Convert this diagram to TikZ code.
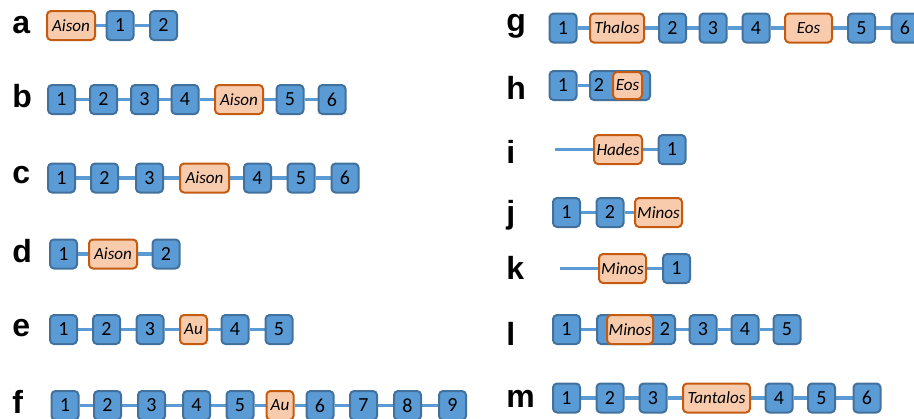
\documentclass[tikz,border=0pt]{standalone}
\usepackage{fontspec}
\setmainfont{Carlito}
\newfontfamily\labfont{Liberation Sans}
\usetikzlibrary{backgrounds}
\definecolor{fblue}{HTML}{5B9BD5}
\definecolor{bblue}{HTML}{41719C}
\definecolor{forange}{HTML}{F8CBAD}
\definecolor{borange}{HTML}{C55A11}
\definecolor{lblue}{HTML}{5B9BD5}
\tikzset{
  x=0.75pt, y=-0.75pt,
  nb/.style={draw=bblue, fill=fblue, line width=1.5pt, rounded corners=3pt,
    minimum width=20.25pt, minimum height=21.75pt, inner sep=0pt,
    font=\fontsize{15}{16}\selectfont},
  no/.style={draw=borange, fill=forange, line width=1.5pt, rounded corners=3pt,
    minimum width=#1, minimum height=21.75pt, inner sep=0pt,
    font=\fontsize{12.8}{13}\selectfont\itshape},
  no/.default=36pt,
  txt/.style={inner sep=0pt, font=\fontsize{15}{16}\selectfont},
  lab/.style={anchor=base west, inner sep=0pt, font=\labfont\bfseries\fontsize{24}{26}\selectfont},
  link/.style={draw=lblue, line width=2.6pt},
}
\begin{document}
\begin{tikzpicture}
\useasboundingbox (0,0) rectangle (914,418);
% labels
\node[lab] (La) at (12,33) {a};
\node[lab] (Lb) at (12,107) {b};
\node[lab] (Lc) at (12,183) {c};
\node[lab] (Ld) at (12,262) {d};
\node[lab] (Le) at (12,336) {e};
\node[lab] (Lf) at (12,413) {f};
\node[lab] (Lg) at (506,31) {g};
\node[lab] (Lh) at (506,99) {h};
\node[lab] (Li) at (506,163) {i};
\node[lab] (Lj) at (506,223.5) {j};
\node[lab] (Lk) at (506,279) {k};
\node[lab] (Ll) at (506,345) {l};
\node[lab] (Lm) at (506,407) {m};
% row a
\node[no] (aA) at (71,25.5) {Aison};
\node[nb] (a1) at (120,25.5) {1};
\node[nb] (a2) at (163.5,25.5) {2};
% row b
\node[nb] (b1) at (61.5,99.5) {1};
\node[nb] (b2) at (103.5,99.5) {2};
\node[nb] (b3) at (144.5,99.5) {3};
\node[nb] (b4) at (185,99.5) {4};
\node[no] (bA) at (239,99.5) {Aison};
\node[nb] (b5) at (290,99.5) {5};
\node[nb] (b6) at (332,99.5) {6};
% row c
\node[nb] (c1) at (61.5,178) {1};
\node[nb] (c2) at (104.5,178) {2};
\node[nb] (c3) at (149.5,178) {3};
\node[no=36.75pt] (cA) at (204.5,178) {Aison};
\node[nb] (c4) at (257.5,178) {4};
\node[nb] (c5) at (301,178) {5};
\node[nb] (c6) at (345,178) {6};
% row d
\node[nb] (d1) at (63.5,254) {1};
\node[no] (dA) at (113,254) {Aison};
\node[nb] (d2) at (166,254) {2};
% row e
\node[nb] (e1) at (63.5,329.5) {1};
\node[nb] (e2) at (106.5,329.5) {2};
\node[nb] (e3) at (150,329.5) {3};
\node[no=20.25pt] (eA) at (193.5,329.5) {Au};
\node[nb] (e4) at (235,329.5) {4};
\node[nb] (e5) at (279,329.5) {5};
% row f
\node[nb] (f1) at (65,405.5) {1};
\node[nb] (f2) at (107.5,405.5) {2};
\node[nb] (f3) at (151.5,405.5) {3};
\node[nb] (f4) at (196.5,405.5) {4};
\node[nb] (f5) at (240,405.5) {5};
\node[no=20.25pt] (fA) at (280,405.5) {Au};
\node[nb] (f6) at (320,405.5) {6};
\node[nb] (f7) at (363.5,405.5) {7};
\node[nb] (f8) at (407.5,405.5) {8};
\node[nb] (f9) at (452.5,405.5) {9};
% row g
\node[nb] (g1) at (563,28) {1};
\node[no=40.5pt] (gT) at (617,28) {Thalos};
\node[nb] (g2) at (672.5,28) {2};
\node[nb] (g3) at (713,28) {3};
\node[nb] (g4) at (756,28) {4};
\node[no=35.25pt] (gE) at (808.5,28) {Eos};
\node[nb] (g5) at (861.5,28) {5};
\node[nb] (g6) at (905,28) {6};
% row h
\node[nb] (h1) at (563,85.5) {1};
\node[nb, minimum width=45pt] (h2) at (620,85.5) {};
\node[txt] (h2t) at (599,85.5) {2};
\node[no=21.75pt, minimum height=20.25pt] (hE) at (627.5,85.5) {Eos};
% row i
\coordinate (i0) at (555,149.5);
\node[no] (iH) at (618,149.5) {Hades};
\node[nb] (i1) at (672,149.5) {1};
% row j
\node[nb] (j1) at (566.5,212.5) {1};
\node[nb] (j2) at (610,212.5) {2};
\node[no=35.25pt] (jM) at (658.5,212.5) {Minos};
% row k
\coordinate (k0) at (560,268.5);
\node[no=35.25pt] (kM) at (622.5,268.5) {Minos};
\node[nb] (k1) at (676.5,268.5) {1};
% row l
\node[nb] (l1) at (566.5,329.5) {1};
\node[nb, minimum width=58.5pt] (l2) at (636,329.5) {};
\node[txt] (l2t) at (665,329.5) {2};
\node[no=34.5pt] (lM) at (630,329.5) {Minos};
\node[nb] (l3) at (703,329.5) {3};
\node[nb] (l4) at (745,329.5) {4};
\node[nb] (l5) at (787,329.5) {5};
% row m
\node[nb] (m1) at (566.5,398) {1};
\node[nb] (m2) at (610,398) {2};
\node[nb] (m3) at (653,398) {3};
\node[no=50.25pt] (mT) at (716.5,398) {Tantalos};
\node[nb] (m4) at (779,398) {4};
\node[nb] (m5) at (821.5,398) {5};
\node[nb] (m6) at (867,398) {6};
% links
\begin{pgfonlayer}{background}
\draw[link] (aA) -- (a1) -- (a2);
\draw[link] (b1) -- (b2) -- (b3) -- (b4) -- (bA) -- (b5) -- (b6);
\draw[link] (c1) -- (c2) -- (c3) -- (cA) -- (c4) -- (c5) -- (c6);
\draw[link] (d1) -- (dA) -- (d2);
\draw[link] (e1) -- (e2) -- (e3) -- (eA) -- (e4) -- (e5);
\draw[link] (f1) -- (f2) -- (f3) -- (f4) -- (f5) -- (fA) -- (f6) -- (f7) -- (f8) -- (f9);
\draw[link] (g1) -- (gT) -- (g2) -- (g3) -- (g4) -- (gE) -- (g5) -- (g6);
\draw[link] (h1) -- (h2);
\draw[link] (i0) -- (iH) -- (i1);
\draw[link] (j1) -- (j2) -- (jM);
\draw[link] (k0) -- (kM) -- (k1);
\draw[link] (l1) -- (l2) -- (l3) -- (l4) -- (l5);
\draw[link] (m1) -- (m2) -- (m3) -- (mT) -- (m4) -- (m5) -- (m6);
\end{pgfonlayer}
\end{tikzpicture}
\end{document}
